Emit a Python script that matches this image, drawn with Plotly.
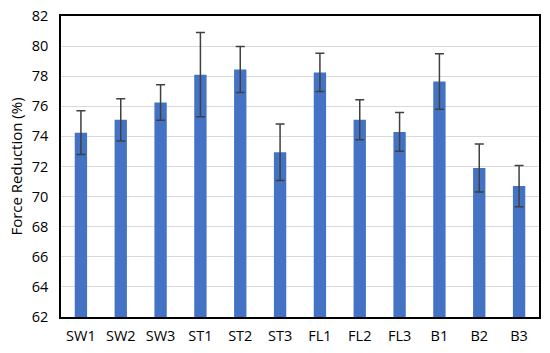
import plotly.graph_objects as go

categories = ["SW1", "SW2", "SW3", "ST1", "ST2", "ST3", "FL1", "FL2", "FL3", "B1", "B2", "B3"]
values = [74.25, 75.1, 76.25, 78.1, 78.45, 72.95, 78.25, 75.1, 74.3, 77.65, 71.9, 70.7]
errors = [1.45, 1.4, 1.18, 2.8, 1.53, 1.88, 1.27, 1.33, 1.28, 1.84, 1.6, 1.37]
y_ticks = [62, 64, 66, 68, 70, 72, 74, 76, 78, 80, 82]

fig = go.Figure()
fig.add_trace(go.Bar(
    x=categories, y=values,
    marker=dict(color="#4472C4", line=dict(width=0)),
    width=0.31,
    error_y=dict(type="data", array=errors, visible=True, color="#404040", thickness=1.5, width=4.5),
))

font_family = "Open Sans, Liberation Sans, sans-serif"
fig.update_layout(
    width=550, height=353,
    margin=dict(l=61, r=11, t=16, b=36),
    paper_bgcolor="white", plot_bgcolor="white",
    showlegend=False,
    font=dict(family=font_family, size=14.5, color="#000000"),
    xaxis=dict(showline=True, linecolor="black", linewidth=1.5, mirror=True,
               ticks="outside", ticklen=5, tickcolor="rgba(0,0,0,0)",
               tickfont=dict(size=14.5), showgrid=False, automargin=False),
    yaxis=dict(range=[62, 82], tickvals=y_ticks, showline=True, linecolor="black",
               linewidth=1.5, mirror=True, showgrid=True, gridcolor="#D9D9D9",
               gridwidth=1, ticks="outside", ticklen=8, tickcolor="rgba(0,0,0,0)",
               tickfont=dict(size=14.5), automargin=False,
               title=dict(text="Force Reduction (%)", font=dict(size=15), standoff=6)),
)
# remove the browser's default 8px body margin so the figure fills the window
fig.write_html("out.html", config={"displayModeBar": False},
               post_script="document.body.style.margin='0';")
